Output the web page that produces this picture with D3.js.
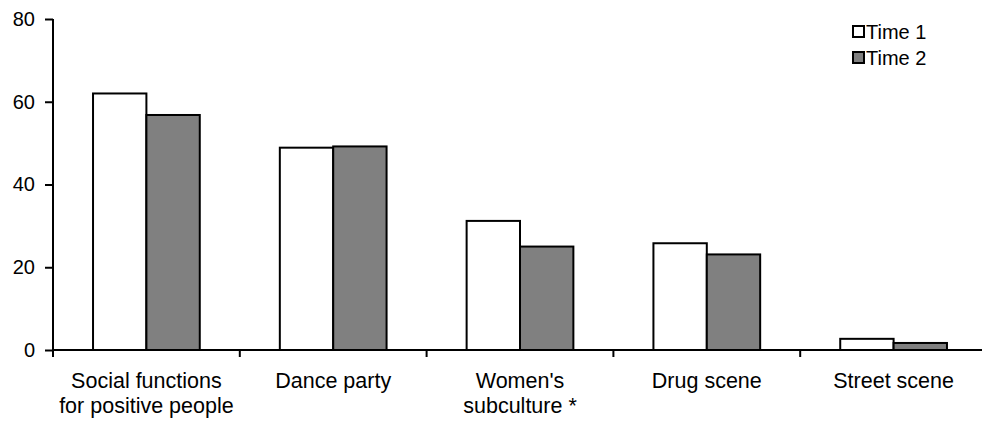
<!DOCTYPE html>
<html><head><meta charset="utf-8">
<script src="https://cdn.jsdelivr.net/npm/d3@7"></script>
<style>body{margin:0;background:#fff}svg{display:block}text{font-family:"Liberation Sans",Arial,sans-serif;fill:#000}</style>
</head><body><svg id="c" width="982" height="423"></svg>
<script>
const categories = [["Social functions","for positive people"],["Dance party"],["Women's","subculture *"],["Drug scene"],["Street scene"]];
const seriesNames = ["Time 1","Time 2"];
const time1 = [62.0, 48.9, 31.2, 25.8, 2.7];
const time2 = [56.8, 49.2, 25.0, 23.1, 1.7];
const yTicks = [0,20,40,60,80];
const colors = ["#ffffff","#808080"];

(function(){
const svg = d3.select("#c");
const mL = 53, mR = 987, mT = 19, mB = 350;
const x = d3.scaleBand().domain(d3.range(categories.length)).range([mL,mR]).paddingInner(0).paddingOuter(0);
const y = d3.scaleLinear().domain([0,80]).range([mB,mT]);
const bw = x.bandwidth()/3.5;

const g = svg.append("g");
const data = [time1,time2];
data.forEach((s,si)=>{
  g.selectAll(".b"+si).data(s).join("rect").attr("class","b"+si)
    .attr("x",(d,i)=>x(i)+x.bandwidth()/2-bw+si*bw)
    .attr("y",d=>y(d))
    .attr("width",bw)
    .attr("height",d=>y(0)-y(d))
    .attr("fill",colors[si]).attr("stroke","#000").attr("stroke-width",2);
});

const ya = svg.append("g").attr("transform",`translate(${mL},0)`)
  .call(d3.axisLeft(y).tickValues(yTicks).tickSize(8).tickPadding(10));
ya.selectAll("path,line").attr("stroke","#000").attr("stroke-width",2);
ya.select(".domain").attr("d",`M0,${mT}V${mB}`);
ya.selectAll("text").style("font-size","20px").attr("font-family","Liberation Sans, Arial, sans-serif");

const xa = svg.append("g").attr("transform",`translate(0,${mB})`);
xa.append("line").attr("x1",mL).attr("x2",mR).attr("stroke","#000").attr("stroke-width",2);
const bounds = d3.range(categories.length+1).map(i=> i<categories.length ? x(i) : mR);
xa.selectAll(".tk").data(bounds).join("line").attr("class","tk").attr("x1",d=>d).attr("x2",d=>d).attr("y1",0).attr("y2",7).attr("stroke","#000").attr("stroke-width",2);
const lab = xa.selectAll(".lab").data(categories).join("text").attr("class","lab")
  .attr("text-anchor","middle").style("font-size","21.5px")
  .attr("transform",(d,i)=>`translate(${x(i)+x.bandwidth()/2},0)`);
lab.selectAll("tspan").data(d=>d).join("tspan").attr("x",0).attr("y",(d,j)=>38+j*25).text(d=>d);

const lg = svg.append("g").attr("transform","translate(853,26)");
seriesNames.forEach((n,i)=>{
  lg.append("rect").attr("x",0).attr("y",i*26).attr("width",11).attr("height",11).attr("fill",colors[i]).attr("stroke","#000").attr("stroke-width",2);
  lg.append("text").attr("x",13).attr("y",i*26+13).style("font-size","20px").text(n);
});
})();
</script></body></html>
